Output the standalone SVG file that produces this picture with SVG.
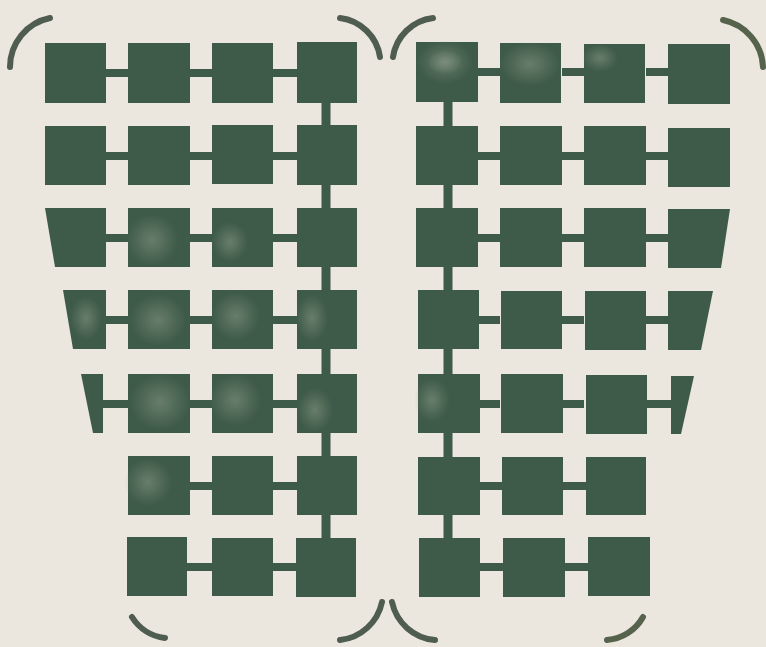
<svg xmlns="http://www.w3.org/2000/svg" width="766" height="647" viewBox="0 0 766 647">
<defs>
<style>
.sq{fill:#3e5a48}
.cn{stroke:#3e5a48;stroke-width:8;fill:none}
.sp{stroke:#3e5a48;stroke-width:9;fill:none}
.br{stroke:#4f5c50;stroke-width:6;fill:none;stroke-linecap:round}
.hl{fill:url(#mot)}
</style>
<radialGradient id="mot" cx="0.5" cy="0.5" r="0.5">
<stop offset="0" stop-color="#8a9a88" stop-opacity="0.55"/>
<stop offset="1" stop-color="#8a9a88" stop-opacity="0"/>
</radialGradient>
</defs>
<rect width="766" height="647" fill="#ebe6de"/>

<g id="brackets">
<path class="br" d="M50,18 A50,50 0 0 0 10,67"/>
<path class="br" d="M340,18 A46,46 0 0 1 380,57"/>
<path class="br" d="M433,18 A46,46 0 0 0 393,57"/>
<path class="br" d="M723,20 A50,50 0 0 1 763,67" style="stroke:#56634c"/>
<path class="br" d="M132,617 A45,45 0 0 0 165,638"/>
<path class="br" d="M382,602 A48,48 0 0 1 340,640"/>
<path class="br" d="M392,602 A48,48 0 0 0 435,640"/>
<path class="br" d="M643,617 A45,45 0 0 1 607,640" style="stroke:#56634c"/>
</g>

<g id="connectors">
<!-- left panel horizontals -->
<path class="cn" d="M106,73H128M190,73H212M273,73H297"/>
<path class="cn" d="M106,156H128M190,156H212M273,156H297"/>
<path class="cn" d="M106,238H128M190,238H212M273,238H297"/>
<path class="cn" d="M106,320H128M190,320H212M273,320H297"/>
<path class="cn" d="M103,404H128M190,404H212M273,404H297"/>
<path class="cn" d="M190,486H212M273,486H297"/>
<path class="cn" d="M187,567H212M273,567H296"/>
<!-- left spine -->
<path class="sp" d="M326,100V540"/>
<!-- right panel horizontals -->
<path class="cn" d="M478,72H500M562,72H584M646,72H668"/>
<path class="cn" d="M478,156H500M562,156H584M646,156H668"/>
<path class="cn" d="M478,238H500M562,238H584M646,238H668"/>
<path class="cn" d="M478,320H500M562,320H584M646,320H668"/>
<path class="cn" d="M478,404H500M562,404H584M646,404H671"/>
<path class="cn" d="M480,486H502M563,486H586"/>
<path class="cn" d="M480,567H503M565,567H588"/>
<!-- right spine -->
<path class="sp" d="M448,100V540"/>
</g>

<!-- left panel nodes -->
<g id="L1-1"><rect class="sq" x="45" y="43" width="61" height="60"/></g>
<g id="L1-2"><rect class="sq" x="128" y="43" width="62" height="60"/></g>
<g id="L1-3"><rect class="sq" x="212" y="43" width="61" height="60"/></g>
<g id="L1-4"><rect class="sq" x="297" y="42" width="60" height="61"/></g>

<g id="L2-1"><rect class="sq" x="45" y="126" width="61" height="59"/></g>
<g id="L2-2"><rect class="sq" x="128" y="126" width="62" height="59"/></g>
<g id="L2-3"><rect class="sq" x="212" y="125" width="61" height="59"/></g>
<g id="L2-4"><rect class="sq" x="297" y="125" width="60" height="60"/></g>

<g id="L3-1"><polygon class="sq" points="45,208 106,208 106,267 55,267"/></g>
<g id="L3-2"><rect class="sq" x="128" y="208" width="62" height="59"/><ellipse class="hl" cx="152" cy="240" rx="26" ry="26"/></g>
<g id="L3-3"><rect class="sq" x="212" y="208" width="61" height="59"/><ellipse class="hl" cx="230" cy="242" rx="18" ry="20"/></g>
<g id="L3-4"><rect class="sq" x="297" y="208" width="60" height="59"/></g>

<g id="L4-1"><polygon class="sq" points="63,290 106,290 106,349 73,349"/><ellipse class="hl" cx="86" cy="318" rx="16" ry="22"/></g>
<g id="L4-2"><rect class="sq" x="128" y="290" width="62" height="59"/><ellipse class="hl" cx="158" cy="320" rx="28" ry="26"/></g>
<g id="L4-3"><rect class="sq" x="212" y="290" width="61" height="59"/><ellipse class="hl" cx="236" cy="316" rx="24" ry="24"/></g>
<g id="L4-4"><rect class="sq" x="297" y="290" width="60" height="59"/><ellipse class="hl" cx="312" cy="318" rx="16" ry="24"/></g>

<g id="L5-1"><polygon class="sq" points="81,374 103,374 103,433 93,433"/></g>
<g id="L5-2"><rect class="sq" x="128" y="374" width="62" height="59"/><ellipse class="hl" cx="160" cy="402" rx="30" ry="28"/></g>
<g id="L5-3"><rect class="sq" x="212" y="374" width="61" height="59"/><ellipse class="hl" cx="235" cy="400" rx="26" ry="26"/></g>
<g id="L5-4"><rect class="sq" x="297" y="374" width="60" height="59"/><ellipse class="hl" cx="315" cy="410" rx="18" ry="22"/></g>

<g id="L6-2"><rect class="sq" x="128" y="456" width="62" height="59"/><ellipse class="hl" cx="148" cy="482" rx="24" ry="24"/></g>
<g id="L6-3"><rect class="sq" x="212" y="456" width="61" height="59"/></g>
<g id="L6-4"><rect class="sq" x="297" y="456" width="60" height="59"/></g>

<g id="L7-2"><rect class="sq" x="127" y="537" width="60" height="59"/></g>
<g id="L7-3"><rect class="sq" x="212" y="538" width="61" height="58"/></g>
<g id="L7-4"><rect class="sq" x="296" y="538" width="60" height="59"/></g>

<!-- right panel nodes -->
<g id="R1-1"><rect class="sq" x="416" y="42" width="62" height="60"/><ellipse class="hl" cx="445" cy="62" rx="28" ry="22" style="opacity:1"/><ellipse class="hl" cx="445" cy="62" rx="18" ry="12"/></g>
<g id="R1-2"><rect class="sq" x="500" y="43" width="61" height="60"/><ellipse class="hl" cx="530" cy="64" rx="30" ry="22"/></g>
<g id="R1-3"><rect class="sq" x="584" y="44" width="61" height="59"/><ellipse class="hl" cx="600" cy="58" rx="18" ry="14"/></g>
<g id="R1-4"><rect class="sq" x="668" y="44" width="62" height="60"/></g>

<g id="R2-1"><rect class="sq" x="416" y="126" width="62" height="59"/></g>
<g id="R2-2"><rect class="sq" x="500" y="126" width="62" height="59"/></g>
<g id="R2-3"><rect class="sq" x="584" y="126" width="62" height="59"/></g>
<g id="R2-4"><rect class="sq" x="668" y="128" width="62" height="59"/></g>

<g id="R3-1"><rect class="sq" x="416" y="208" width="62" height="59"/></g>
<g id="R3-2"><rect class="sq" x="500" y="208" width="62" height="59"/></g>
<g id="R3-3"><rect class="sq" x="584" y="208" width="62" height="59"/></g>
<g id="R3-4"><polygon class="sq" points="668,209 730,209 721,268 668,268"/></g>

<g id="R4-1"><rect class="sq" x="418" y="290" width="61" height="59"/></g>
<g id="R4-2"><rect class="sq" x="501" y="291" width="61" height="58"/></g>
<g id="R4-3"><rect class="sq" x="585" y="291" width="61" height="59"/></g>
<g id="R4-4"><polygon class="sq" points="668,291 713,291 701,350 668,350"/></g>

<g id="R5-1"><rect class="sq" x="418" y="374" width="62" height="59"/><ellipse class="hl" cx="432" cy="400" rx="18" ry="22"/></g>
<g id="R5-2"><rect class="sq" x="501" y="374" width="62" height="59"/></g>
<g id="R5-3"><rect class="sq" x="586" y="375" width="61" height="59"/></g>
<g id="R5-4"><polygon class="sq" points="671,376 694,376 681,434 671,434"/></g>

<g id="R6-1"><rect class="sq" x="418" y="457" width="62" height="58"/></g>
<g id="R6-2"><rect class="sq" x="502" y="457" width="61" height="58"/></g>
<g id="R6-3"><rect class="sq" x="586" y="457" width="60" height="58"/></g>

<g id="R7-1"><rect class="sq" x="419" y="538" width="61" height="59"/></g>
<g id="R7-2"><rect class="sq" x="503" y="538" width="62" height="59"/></g>
<g id="R7-3"><rect class="sq" x="588" y="537" width="62" height="59"/></g>
</svg>
